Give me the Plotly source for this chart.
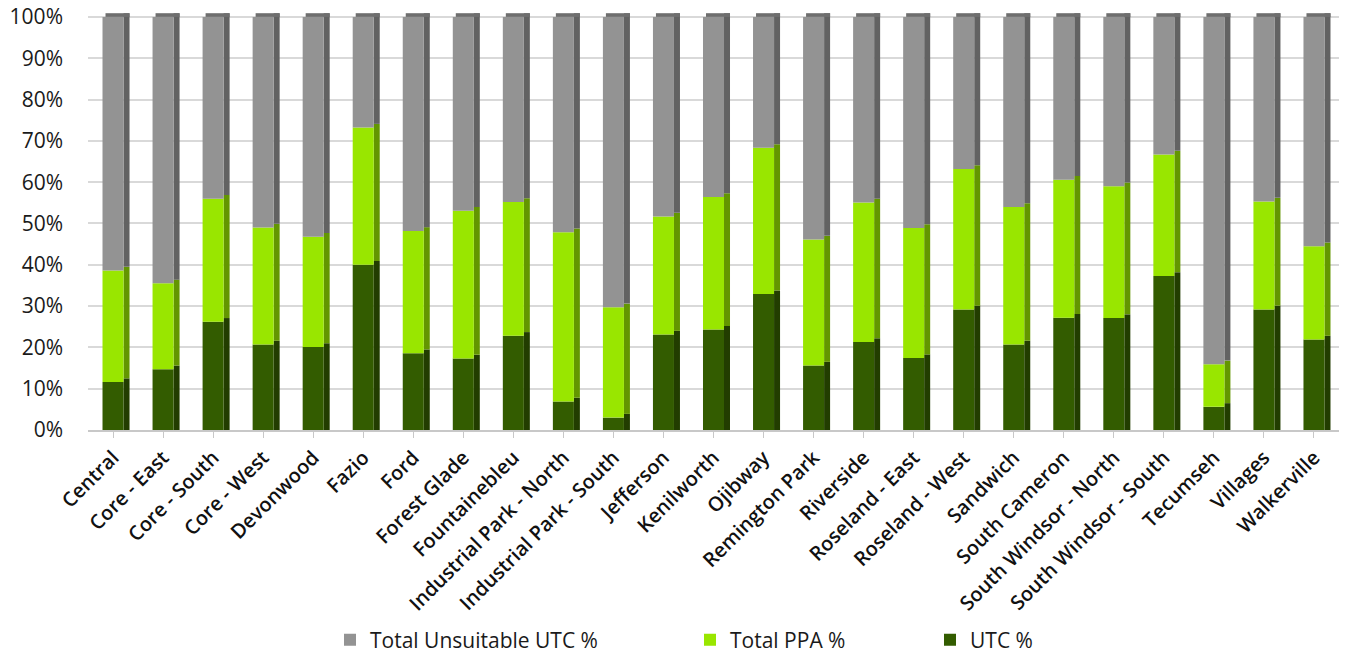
import plotly.graph_objects as go

categories = ["Central", "Core - East", "Core - South", "Core - West", "Devonwood", "Fazio", "Ford",
              "Forest Glade", "Fountainebleu", "Industrial Park - North", "Industrial Park - South",
              "Jefferson", "Kenilworth", "Ojibway", "Remington Park", "Riverside", "Roseland - East",
              "Roseland - West", "Sandwich", "South Cameron", "South Windsor - North",
              "South Windsor - South", "Tecumseh", "Villages", "Walkerville"]

utc_pct = [11.6, 14.7, 26.2, 20.7, 20.1, 40.0, 18.6, 17.3, 22.8, 6.9, 3.0, 23.1, 24.3, 32.9,
           15.6, 21.3, 17.4, 29.2, 20.7, 27.2, 27.1, 37.3, 5.6, 29.2, 21.9]
ppa_pct = [27.0, 20.8, 29.8, 28.3, 26.7, 33.2, 29.6, 35.8, 32.4, 41.0, 26.7, 28.6, 32.1, 35.4,
           30.5, 33.8, 31.5, 34.0, 33.3, 33.4, 31.9, 29.4, 10.3, 26.1, 22.6]
unsuitable_pct = [61.4, 64.5, 44.0, 51.0, 53.2, 26.8, 51.8, 46.9, 44.8, 52.1, 70.3, 48.3, 43.6, 31.7,
                  53.9, 44.9, 51.1, 36.8, 46.0, 39.4, 41.0, 33.3, 84.1, 44.7, 55.5]

x = list(range(len(categories)))

series = [
    ("UTC %", utc_pct, "#335c00", "#223d00", "legend3"),
    ("Total PPA %", ppa_pct, "#99e600", "#639600", "legend2"),
    ("Total Unsuitable UTC %", unsuitable_pct, "#939393", "#626262", "legend"),
]

FRONT_W = 0.42
SIDE_W = 0.12
DEPTH = 0.9  # vertical depth shift in axis units for 3D side faces

fig = go.Figure()
base = [0.0] * len(categories)
for i, (name, vals, front_col, side_col, leg) in enumerate(series):
    # side face (3D depth); the lowest one reaches down to the floor
    if i == 0:
        side_base = base
        side_y = [v + DEPTH for v in vals]
    else:
        side_base = [b + DEPTH for b in base]
        side_y = vals
    fig.add_trace(go.Bar(
        x=x, y=side_y, base=side_base, width=SIDE_W, offset=FRONT_W / 2,
        marker=dict(color=side_col, line=dict(width=0)), showlegend=False, hoverinfo="skip"))
    # front face
    fig.add_trace(go.Bar(
        x=x, y=vals, base=base, width=FRONT_W, offset=-FRONT_W / 2, name=name,
        marker=dict(color=front_col, line=dict(width=0)), legend=leg))
    base = [b + v for b, v in zip(base, vals)]

# top cap
fig.add_trace(go.Bar(
    x=x, y=[DEPTH] * len(categories), base=base, width=FRONT_W + SIDE_W - 0.06,
    offset=-FRONT_W / 2 + 0.06, marker=dict(color="#6e6e6e", line=dict(width=0)),
    showlegend=False, hoverinfo="skip"))

L, R, T, B = 88, 20, 7, 227
W, H = 1359, 657
pw = W - L - R
ph = H - T - B


def lx(px):
    return (px - L) / pw


def ly(py):
    return (H - B - py) / ph


legend_common = dict(orientation="h", yanchor="middle", xanchor="left",
                     font=dict(family="Open Sans", size=21, color="#1a1a1a"),
                     bgcolor="rgba(0,0,0,0)", itemclick=False)

fig.update_layout(
    width=W, height=H,
    barmode="overlay",
    margin=dict(l=L, r=R, t=T, b=B, autoexpand=False),
    plot_bgcolor="white", paper_bgcolor="white",
    font=dict(family="Open Sans", color="#1a1a1a"),
    legend=dict(x=lx(330), y=ly(640), **legend_common),
    legend2=dict(x=lx(690), y=ly(640), **legend_common),
    legend3=dict(x=lx(930), y=ly(640), **legend_common),
    xaxis=dict(
        range=[-0.5, len(categories) - 0.5], tickmode="array", tickvals=x, ticktext=categories,
        tickangle=-45, tickfont=dict(family="Open Sans", size=20, color="#111111", weight=600),
        showgrid=False, showline=True, linecolor="#c8c8c8", linewidth=2,
        ticks="outside", tickson="boundaries", ticklen=6, tickcolor="#c8c8c8",
        zeroline=False, automargin=False),
    yaxis=dict(
        range=[0, 102.4], tickmode="array", tickvals=list(range(0, 101, 10)),
        ticktext=[f"{v}%" for v in range(0, 101, 10)],
        tickfont=dict(family="Open Sans", size=21, color="#1a1a1a"),
        showgrid=True, gridcolor="#d9d9d9", gridwidth=1.5, zeroline=False,
        showline=False, ticklabelstandoff=24, automargin=False),
)

fig.write_html("out.html")
